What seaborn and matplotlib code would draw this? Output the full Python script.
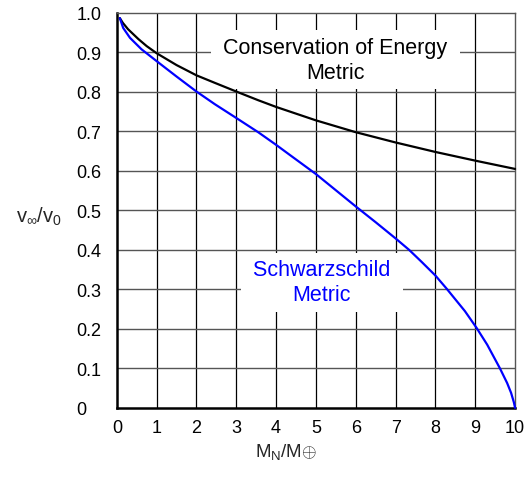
import matplotlib
matplotlib.use("Agg")
import matplotlib.pyplot as plt
import seaborn as sns
import pandas as pd

# Data
energy_x = [0.075, 0.15, 0.28, 0.54, 0.75, 1.0, 1.5, 2.0, 2.46, 3.0, 3.55, 4.0, 5.0, 6.0, 7.0, 8.0, 9.0, 10.0]
energy_y = [0.987, 0.975, 0.959, 0.934, 0.916, 0.898, 0.868, 0.842, 0.823, 0.801, 0.779, 0.762, 0.728, 0.698, 0.672, 0.648, 0.626, 0.605]

schw_x = [0.075, 0.16, 0.33, 0.62, 1.0, 1.5, 2.0, 2.46, 3.0, 3.55, 4.0, 4.35, 5.0, 5.5, 6.0, 6.5, 7.0, 7.34, 7.66, 8.0, 8.28, 8.74, 9.03, 9.3, 9.62, 9.8, 9.9, 9.97, 10.0]
schw_y = [0.987, 0.962, 0.937, 0.908, 0.878, 0.839, 0.801, 0.769, 0.734, 0.698, 0.666, 0.640, 0.592, 0.551, 0.510, 0.470, 0.429, 0.400, 0.369, 0.335, 0.302, 0.245, 0.203, 0.160, 0.100, 0.063, 0.038, 0.014, 0.0]

x_ticks = [0, 1, 2, 3, 4, 5, 6, 7, 8, 9, 10]
y_ticks = [0, 0.1, 0.2, 0.3, 0.4, 0.5, 0.6, 0.7, 0.8, 0.9, 1.0]
y_tick_labels = ["0", "0.1", "0.2", "0.3", "0.4", "0.5", "0.6", "0.7", "0.8", "0.9", "1.0"]

energy_label = " Conservation of Energy \nMetric"
schw_label = " Schwarzschild \nMetric"

sns.set_style("white")
plt.rcParams['font.family'] = ['Liberation Sans', 'DejaVu Sans']
plt.rcParams['mathtext.fontset'] = 'custom'
plt.rcParams['mathtext.rm'] = 'Liberation Sans'
plt.rcParams['mathtext.it'] = 'Liberation Sans'
plt.rcParams['mathtext.sf'] = 'Liberation Sans'

df_e = pd.DataFrame({"x": energy_x, "y": energy_y})
df_s = pd.DataFrame({"x": schw_x, "y": schw_y})

fig = plt.figure(figsize=(5.31, 4.81), dpi=100)
ax = fig.add_axes([0.220, 0.150, 0.750, 0.821])

sns.lineplot(data=df_e, x="x", y="y", ax=ax, color="black", lw=1.6, clip_on=False, zorder=4)
sns.lineplot(data=df_s, x="x", y="y", ax=ax, color="#0000ff", lw=1.6, clip_on=False, zorder=4)

ax.set_xlim(0, 10)
ax.set_ylim(0, 1.0)
ax.set_xticks(x_ticks)
ax.set_yticks(y_ticks)
ax.set_yticklabels(y_tick_labels)
ax.tick_params(axis='both', length=0, labelsize=13, colors='black')
ax.tick_params(axis='x', pad=8)
ax.tick_params(axis='y', pad=29)
for lbl in ax.get_yticklabels():
    lbl.set_horizontalalignment('left')

for xv in x_ticks[1:-1]:
    ax.axvline(xv, color='black', lw=0.9, zorder=1)
for yv in y_ticks[1:-1]:
    ax.axhline(yv, color='#555555', lw=1.0, zorder=1)

ax.spines['left'].set_linewidth(1.8)
ax.spines['bottom'].set_linewidth(1.8)
ax.spines['left'].set_color('black')
ax.spines['bottom'].set_color('black')
ax.spines['top'].set_linewidth(1.0)
ax.spines['right'].set_linewidth(1.0)
ax.spines['top'].set_color('#555555')
ax.spines['right'].set_color('#555555')

ax.set_xlabel("")
ax.set_ylabel("")

ax.text(5.48, 0.882, energy_label, ha='center', va='center', fontsize=15.5, color='black',
        linespacing=1.25, zorder=3,
        bbox=dict(boxstyle='square,pad=0.3', fc='white', ec='none'))
ax.text(5.15, 0.318, schw_label, ha='center', va='center', fontsize=15.5, color='#0000ff',
        linespacing=1.25, zorder=3,
        bbox=dict(boxstyle='square,pad=0.3', fc='white', ec='none'))

fig.text(39 / 531, 1 - 217 / 481, r'v$_{\infty}$/v$_0$', ha='center', va='center', fontsize=14.5)
fig.text(286 / 531, 1 - 452 / 481, r'M$_\mathrm{N}$/M$\oplus$', ha='center', va='center', fontsize=13.5)

fig.savefig("out.png", dpi=100)
